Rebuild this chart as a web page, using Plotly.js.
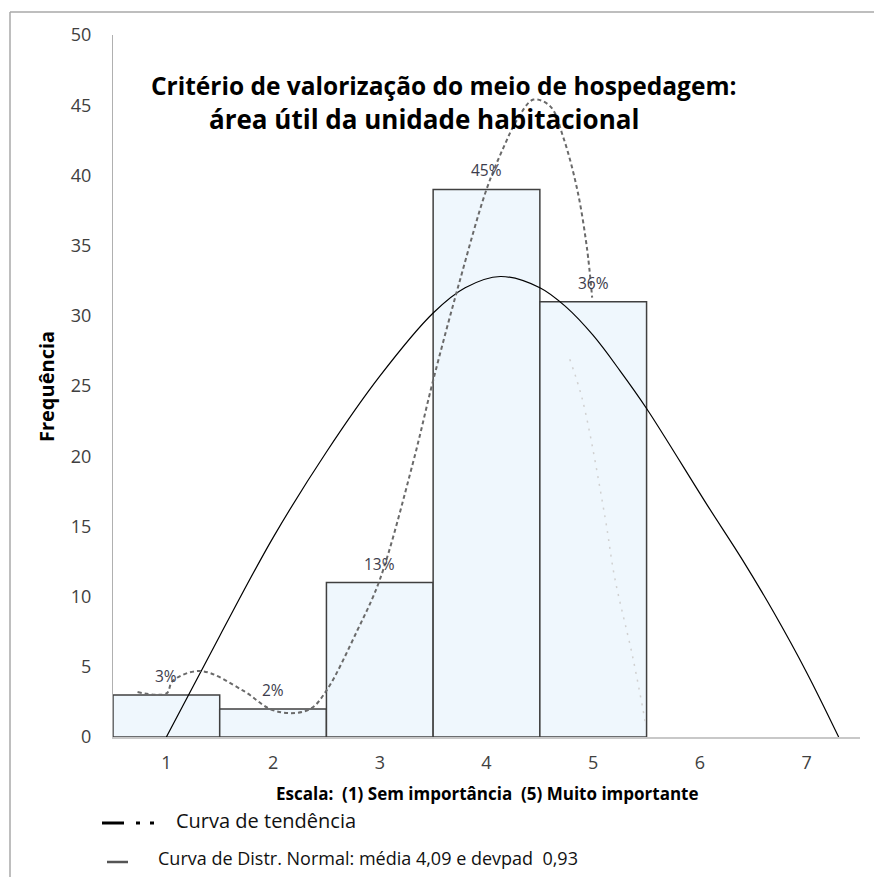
<!DOCTYPE html>
<html>
<head>
<meta charset="utf-8">
<script src="https://cdn.plot.ly/plotly-3.0.1.min.js"></script>
<style>html,body{margin:0;padding:0;background:#fff;}#chart{width:874px;height:877px;}</style>
</head>
<body>
<div id="chart"></div>
<script>
// Data
const categories = [1, 2, 3, 4, 5];
const frequencies = [3, 2, 11, 39, 31];
const percentLabels = ["3%", "2%", "13%", "45%", "36%"];

const normalX = [1.0, 1.5, 2.0, 2.5, 3.0, 3.5, 3.8, 4.13, 4.5, 4.75, 5.0, 5.25, 5.5, 6.07, 6.4, 6.69, 7.0, 7.3];
const normalY = [0, 7.2, 14.2, 20.3, 25.7, 30.2, 32.0, 32.8, 32.0, 30.6, 28.6, 26.1, 23.4, 16.5, 12.6, 8.9, 4.6, 0];

const trendX = [0.73, 1.0, 1.06, 1.32, 1.72, 1.97, 2.16, 2.35, 2.5, 2.79, 3.0, 3.31, 3.5, 3.75, 4.0, 4.16, 4.29, 4.44, 4.6, 4.72, 4.85, 4.94, 4.99];
const trendY = [3.2, 3.1, 4.0, 4.7, 3.3, 2.0, 1.7, 2.0, 3.3, 7.6, 11.2, 19.5, 25.4, 32.5, 39, 42, 44, 45.4, 44.9, 42.7, 39, 34.9, 31.3];

const fadeX = [4.78, 4.9, 5.11, 5.2, 5.37, 5.49];
const fadeY = [26.9, 24, 15.7, 11.4, 5.7, 1];

const xTicks = [1, 2, 3, 4, 5, 6, 7];
const yTicks = [0, 5, 10, 15, 20, 25, 30, 35, 40, 45, 50];

const titleLines = ["Critério de valorização do meio de hospedagem:", "área útil da unidade habitacional"];
const xTitle = "Escala:  (1) Sem importância  (5) Muito importante";
const yTitle = "Frequência";
const legend1 = "Curva de tendência";
const legend2 = "Curva de Distr. Normal: média 4,09 e devpad  0,93";

const FONT = "'Open Sans', 'DejaVu Sans', sans-serif";

const traces = [
  {
    type: 'bar', x: categories, y: frequencies, width: 1,
    marker: {color: '#EFF7FD', line: {color: '#404040', width: 1.5}},
    hoverinfo: 'skip', showlegend: false
  },
  {
    type: 'scatter', mode: 'lines', x: fadeX, y: fadeY,
    line: {color: '#d0d0d0', width: 1.5, dash: '2px,6px', shape: 'spline'},
    showlegend: false, hoverinfo: 'skip'
  },
  {
    type: 'scatter', mode: 'lines', x: normalX, y: normalY,
    line: {color: '#000000', width: 1.2, shape: 'spline', smoothing: 1},
    showlegend: false, hoverinfo: 'skip'
  },
  {
    type: 'scatter', mode: 'lines', x: trendX, y: trendY,
    line: {color: '#6a6a6a', width: 2, dash: '4px,3px', shape: 'spline', smoothing: 1},
    showlegend: false, hoverinfo: 'skip'
  }
];

function px(xp) { return (xp - 113) / 747; }
function py(yp) { return (737 - yp) / 702; }

const annotations = [];
categories.forEach((c, i) => {
  annotations.push({
    x: c, y: frequencies[i], xref: 'x', yref: 'y', text: percentLabels[i],
    showarrow: false, yanchor: 'bottom', yshift: 6,
    font: {family: FONT, size: 15.5, color: '#3c3c4c'}
  });
});
// title (two lines)
annotations.push({
  xref: 'paper', yref: 'paper', x: px(443), y: py(86),
  text: '<b>' + titleLines[0] + '</b>',
  showarrow: false, xanchor: 'center', yanchor: 'middle',
  font: {family: FONT, size: 24.5, color: '#000'}
});
annotations.push({
  xref: 'paper', yref: 'paper', x: px(424), y: py(119),
  text: '<b>' + titleLines[1] + '</b>',
  showarrow: false, xanchor: 'center', yanchor: 'middle',
  font: {family: FONT, size: 26, color: '#000'}
});
// x axis title
annotations.push({
  xref: 'paper', yref: 'paper', x: px(487), y: py(793),
  text: '<b>' + xTitle + '</b>', showarrow: false, xanchor: 'center', yanchor: 'middle',
  font: {family: FONT, size: 17, color: '#000'}
});
// y axis title
annotations.push({
  xref: 'paper', yref: 'paper', x: px(47), y: py(387),
  text: '<b>' + yTitle + '</b>', showarrow: false, textangle: -90, xanchor: 'center', yanchor: 'middle',
  font: {family: FONT, size: 20, color: '#000'}
});
// legend texts
annotations.push({
  xref: 'paper', yref: 'paper', x: px(174), y: py(820),
  text: legend1, showarrow: false, xanchor: 'left', yanchor: 'middle',
  font: {family: FONT, size: 20, color: '#111'}
});
annotations.push({
  xref: 'paper', yref: 'paper', x: px(156), y: py(858),
  text: legend2, showarrow: false, xanchor: 'left', yanchor: 'middle',
  font: {family: FONT, size: 18, color: '#111'}
});

const shapes = [
  // outer frame (top and left)
  {type: 'line', xref: 'paper', yref: 'paper', x0: px(10), x1: px(874), y0: py(12), y1: py(12), line: {color: '#a8a8a8', width: 1.5}},
  {type: 'line', xref: 'paper', yref: 'paper', x0: px(10), x1: px(10), y0: py(12), y1: py(877), line: {color: '#a8a8a8', width: 1.5}},
  // legend symbols
  {type: 'line', xref: 'paper', yref: 'paper', x0: px(102), x1: px(124), y0: py(823), y1: py(823), line: {color: '#000', width: 3}},
  {type: 'line', xref: 'paper', yref: 'paper', x0: px(136), x1: px(156), y0: py(823), y1: py(823), line: {color: '#000', width: 3, dash: '4px,10px'}},
  {type: 'line', xref: 'paper', yref: 'paper', x0: px(107), x1: px(128), y0: py(862), y1: py(862), line: {color: '#555', width: 2.5}}
];

const layout = {
  width: 874, height: 877,
  margin: {l: 113, r: 14, t: 35, b: 140},
  paper_bgcolor: '#fff', plot_bgcolor: '#fff',
  showlegend: false,
  bargap: 0,
  xaxis: {
    range: [0.5, 7.5], tickvals: xTicks, ticktext: xTicks.map(String),
    showgrid: false, zeroline: false, showline: true, linecolor: '#c8c8c8', linewidth: 2,
    ticks: '', ticklabelstandoff: 8,
    tickfont: {family: FONT, size: 18, color: '#404040'}
  },
  yaxis: {
    range: [0, 50], tickvals: yTicks, ticktext: yTicks.map(String),
    showgrid: false, zeroline: false, showline: true, linecolor: '#b0b0b0', linewidth: 1,
    ticks: '', ticklabelstandoff: 17,
    tickfont: {family: FONT, size: 18, color: '#404040'}
  },
  annotations: annotations,
  shapes: shapes
};

Plotly.newPlot('chart', traces, layout, {displayModeBar: false, staticPlot: true});
</script>
</body>
</html>
